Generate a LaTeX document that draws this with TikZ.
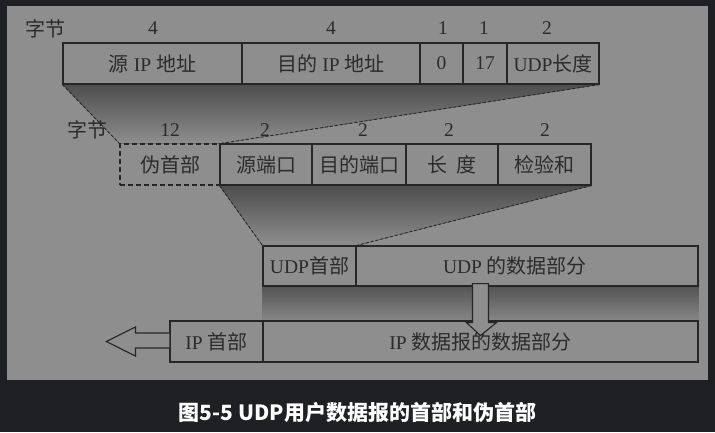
\documentclass[tikz,border=0pt]{standalone}
\usepackage{fontspec}
\setmainfont{Liberation Serif}
\newfontfamily\cjk{Noto Sans CJK SC}
\newcommand\zh[1]{{\cjk\fontsize{20}{20}\selectfont #1}}
\usetikzlibrary{calc}
\definecolor{frame}{HTML}{1F2023}
\definecolor{panel}{HTML}{8E8E8E}
\definecolor{linec}{HTML}{262626}
\definecolor{ink}{HTML}{2B2B2B}
\definecolor{shadetop}{HTML}{4E4E4E}
\pgfdeclarelayer{bg}
\pgfsetlayers{bg,main}
\tikzset{
  cell/.style={draw=linec, line width=1.1pt, fill=panel, inner sep=0pt,
    minimum height=41pt, text=ink, font=\fontsize{19.5}{19.5}\selectfont},
  pseudocell/.style={cell, dashed, dash pattern=on 5pt off 3pt},
  lbl/.style={inner sep=0pt, text=ink, font=\fontsize{19.5}{19.5}\selectfont},
  conn/.style={draw=linec, line width=0.9pt, dash pattern=on 3pt off 2pt},
  hollow/.style={draw=linec, line width=1.1pt, fill=panel, line join=miter}
}
\begin{document}
\begin{tikzpicture}[x=1pt,y=-1pt]
\useasboundingbox (0,0) rectangle (715,432);

% pseudo header fields
\node[cell, minimum width=179pt] (src)   at (152.5,63.5) {\zh{源} IP \zh{地址}};
\node[cell, minimum width=178pt] (dst)   at (331,63.5)   {\zh{目的} IP \zh{地址}};
\node[cell, minimum width=43pt]  (zero)  at (441.5,63.5) {0};
\node[cell, minimum width=44pt]  (proto) at (485,63.5)   {17};
\node[cell, minimum width=92pt]  (len)   at (553,63.5)   {UDP\zh{长度}};
\node[lbl] (bytesA) at (45,29)  {\zh{字节}};
\node[lbl] (nA1) at (153,28) {4};
\node[lbl] (nA2) at (331,28) {4};
\node[lbl] (nA3) at (443,28) {1};
\node[lbl] (nA4) at (484,28) {1};
\node[lbl] (nA5) at (547,28) {2};

% UDP header fields
\node[pseudocell, minimum width=100pt] (pseudo) at (170,164.5) {\zh{伪首部}};
\node[cell, minimum width=92pt] (sport) at (266,164.5)   {\zh{源端口}};
\node[cell, minimum width=94pt] (dport) at (359,164.5)   {\zh{目的端口}};
\node[cell, minimum width=92pt] (ulen)  at (452,164.5)   {\zh{长}\hspace{9pt}\zh{度}};
\node[cell, minimum width=93pt] (csum)  at (544.5,164.5) {\zh{检验和}};
\node[lbl] (bytesB) at (87,130) {\zh{字节}};
\node[lbl] (nB1) at (170,130) {12};
\node[lbl] (nB2) at (265,130) {2};
\node[lbl] (nB3) at (363,130) {2};
\node[lbl] (nB4) at (449,130) {2};
\node[lbl] (nB5) at (545,130) {2};

% UDP datagram
\node[cell, minimum width=93pt, minimum height=40pt]  (udph) at (309.5,266) {UDP\zh{首部}};
\node[cell, minimum width=342pt, minimum height=40pt] (udpd) at (527,266)   {UDP \zh{的数据部分}\hspace*{24pt}};

% IP datagram
\node[cell, minimum width=93pt]  (iph) at (216.5,341.5) {IP \zh{首部}};
\node[cell, minimum width=435pt] (ipd) at (480.5,341.5) {IP \zh{数据报的数据部分}};

% caption
\node[inner sep=0pt, text=white] (cap) at (357.5,413)
  {\cjk\bfseries\fontsize{21}{21}\selectfont 图5-5 UDP用户数据报的首部和伪首部};

% hollow arrows
\draw[hollow] ($(udpd.south west)+(117,-3)$) -- ++(0,39) -- ++(-6,0) -- ++(14,13)
  -- ++(16,-13) -- ++(-8,0) -- ++(0,-39) -- cycle;
\draw[hollow] ($(iph.west)+(0,-8.5)$) -- ++(-34,0) -- ++(0,-6) -- ++(-29,14.5)
  -- ++(29,14.5) -- ++(0,-8) -- ++(34,0);

\begin{pgfonlayer}{bg}
  \fill[frame] (0,0) rectangle (715,432);
  \fill[panel] (7,6) rectangle (708,380);
  \fill[top color=shadetop, bottom color=panel]
    (src.south west) -- (len.south east) -- (pseudo.north east) -- (pseudo.north west) -- cycle;
  \fill[top color=shadetop, bottom color=panel]
    (sport.south west) -- (csum.south east) -- (udph.north east) -- (udph.north west) -- cycle;
  \fill[top color=shadetop!90!panel, bottom color=panel!95!black]
    (udph.south west) rectangle (udpd.south east |- ipd.north);
  \draw[conn] (src.south west) -- (pseudo.north west);
  \draw[conn] (len.south east) -- (pseudo.north east);
  \draw[conn] (sport.south west) -- (udph.north west);
  \draw[conn] (csum.south east) -- (udph.north east);
\end{pgfonlayer}
\end{tikzpicture}
\end{document}
